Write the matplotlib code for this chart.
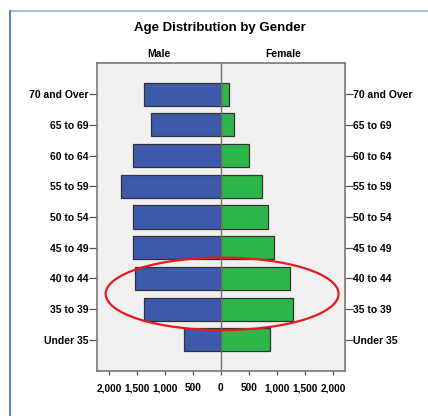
import matplotlib.pyplot as plt
from matplotlib.patches import Ellipse
from matplotlib.lines import Line2D
import numpy as np

plt.rcParams['font.family'] = ['Liberation Sans', 'DejaVu Sans']

# --- data ---
age_groups = ["Under 35", "35 to 39", "40 to 44", "45 to 49", "50 to 54",
              "55 to 59", "60 to 64", "65 to 69", "70 and Over"]
male = [655, 1375, 1535, 1565, 1560, 1780, 1560, 1245, 1370]
female = [886, 1286, 1243, 958, 845, 743, 494, 243, 143]
xticks = [-2000, -1500, -1000, -500, 0, 500, 1000, 1500, 2000]
xtick_labels = ["2,000", "1,500", "1,000", "500", "0", "500", "1,000", "1,500", "2,000"]

blue = "#3D59AB"
green = "#2DB74A"

fig = plt.figure(figsize=(4.28, 4.16), dpi=100)
ax = fig.add_axes([0.2266, 0.1089, 0.5788, 0.7389])
ax.set_facecolor("#F0F0F0")

y = np.arange(len(age_groups))
ax.barh(y, [-m for m in male], height=0.75, color=blue, edgecolor="#333333", linewidth=0.9, zorder=2)
ax.barh(y, female, height=0.75, color=green, edgecolor="#333333", linewidth=0.9, zorder=2)
ax.axvline(0, color="#707070", linewidth=1.0, zorder=3)

ax.set_xlim(-2212, 2212)
ax.set_ylim(-1, 9)
ax.set_yticks(y)
ax.set_yticklabels(age_groups, fontsize=7.5, fontweight="bold")
ax.set_xticks(xticks)
ax.set_xticklabels(xtick_labels, fontsize=7.3, fontweight="bold")
ax.tick_params(axis="y", which="both", left=True, right=True, labelleft=True, labelright=True,
               length=6, width=0.9, color="#555555", pad=0)
ax.tick_params(axis="x", length=3, width=0.9, color="#555555", pad=6)
for s in ax.spines.values():
    s.set_color("#777777")
    s.set_linewidth(1.2)

# red highlight around 35-44
ell = Ellipse((23, 1.5), width=4160, height=2.36, fill=False, edgecolor="#E8191C",
              linewidth=1.6, zorder=5, clip_on=False)
ax.add_patch(ell)

fig.text(220 / 428, 1 - 28 / 416, "Age Distribution by Gender", ha="center", va="center",
         fontsize=9.5, fontweight="bold")
fig.text(159 / 428, 1 - 54 / 416, "Male", ha="center", va="center", fontsize=7.5, fontweight="bold")
fig.text(283.5 / 428, 1 - 54 / 416, "Female", ha="center", va="center", fontsize=7.5, fontweight="bold")

# slide frame lines
fig.add_artist(Line2D([9.5 / 428, 1], [1 - 11 / 416, 1 - 11 / 416], color="#9DB6E0", linewidth=1.3))
fig.add_artist(Line2D([9.5 / 428, 9.5 / 428], [0, 1 - 11 / 416], color="#4A78C0", linewidth=1.3))

fig.savefig("out.png", dpi=100)
